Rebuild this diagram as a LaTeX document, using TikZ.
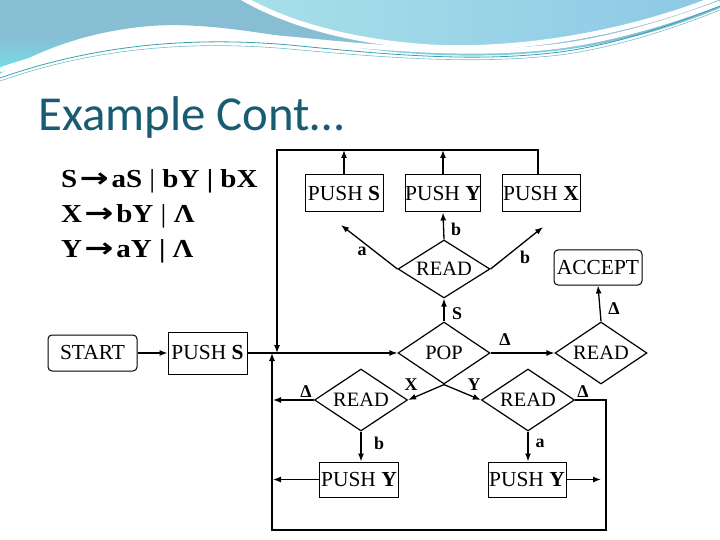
\documentclass[tikz,border=0pt]{standalone}
\usepackage{graphicx}
\usepackage{fontspec}
\setmainfont{Liberation Serif}
\newfontfamily\titlefont{Carlito}
\newfontfamily\arrfont{DejaVu Sans}
\usetikzlibrary{shapes.geometric,arrows.meta}
\definecolor{hdrblue}{RGB}{136,190,211}
\definecolor{hdrcyan}{RGB}{112,226,234}
\definecolor{blobcyan}{RGB}{168,224,232}
\definecolor{blobblue}{RGB}{140,200,230}
\definecolor{linecol}{RGB}{58,160,178}
\definecolor{titlecol}{RGB}{24,92,114}
\newcommand{\garr}{\hspace{2bp}{\arrfont\bfseries\scalebox{1.2}[1.05]{→}}\hspace{2.5bp}}
\newcommand{\gline}[1]{\scalebox{1.12}[1]{#1}}
\tikzset{
  box/.style={draw, line width=1bp, inner sep=0pt, minimum width=78bp, minimum height=37bp, font=\fontsize{21.5}{23}\selectfont},
  rbox/.style={box, rounded corners=4bp},
  dia/.style={draw, line width=1.2bp, diamond, aspect=1.5, inner sep=0pt, minimum width=92bp, minimum height=62bp, font=\fontsize{20.5}{22}\selectfont},
  conn/.style={line width=1.3bp},
  arr/.style={conn, -{Latex[length=8bp,width=6bp]}},
  lbl/.style={inner sep=0pt, font=\bfseries\fontsize{18}{18}\selectfont},
  gram/.style={inner sep=0pt, anchor=base west, font=\bfseries\fontsize{26}{26}\selectfont}
}
\begin{document}
\begin{tikzpicture}[x=1bp,y=-1bp]
\useasboundingbox (0,0) rectangle (720,540);
% header
\shade[top color=hdrblue, bottom color=hdrcyan, middle color=hdrblue] (0,0) -- (720,0) -- (720,8) .. controls (620,50) and (520,60) .. (420,54) .. controls (320,48) and (230,20) .. (150,26) .. controls (80,32) and (30,55) .. (0,74) -- cycle;
\shade[left color=blobcyan, right color=blobblue, draw=white, line width=5bp] (236,-6) .. controls (280,22) and (350,42) .. (430,47) .. controls (530,52) and (640,30) .. (726,-6) -- cycle;
\draw[white, line width=5bp] (0,70) .. controls (100,35) and (200,30) .. (300,40) .. controls (400,50) and (480,56) .. (560,46) .. controls (620,38) and (680,18) .. (720,3);
\draw[linecol, line width=0.8bp] (0,78) .. controls (100,43) and (200,36) .. (300,46) .. controls (400,56) and (480,62) .. (560,52) .. controls (620,44) and (680,22) .. (720,6);
\draw[linecol!70, line width=0.6bp] (0,81) .. controls (100,46) and (200,40) .. (300,50) .. controls (400,59) and (480,64) .. (560,55) .. controls (620,47) and (680,26) .. (720,10);
% title
\node[anchor=base west, inner sep=0pt, text=titlecol, font=\titlefont\fontsize{49}{49}\selectfont] (title) at (38,131) {Example Cont…};
% grammar
\node[gram] (g1) at (61,187.5) {\gline{S\garr aS \textmd{|} bY | bX}};
\node[gram] (g2) at (61,222.5) {\gline{X\garr bY \textmd{|} Λ}};
\node[gram] (g3) at (61,258) {\gline{Y\garr aY | Λ}};
% nodes
\node[box] (pS1) at (344,193.5) {PUSH \textbf{S}};
\node[box, minimum width=74bp] (pY1) at (443,193.5) {PUSH \textbf{Y}};
\node[box] (pX1) at (541,193.5) {PUSH \textbf{X}};
\node[dia, minimum height=58bp] (rd1) at (444,269) {READ};
\node[rbox, minimum width=88bp, minimum height=35bp] (acc) at (598,267.5) {ACCEPT};
\node[rbox, minimum width=89bp, minimum height=36bp] (start) at (92.5,353) {START};
\node[box, minimum width=79bp, minimum height=42bp] (pS0) at (207.5,353) {PUSH \textbf{S}};
\node[dia] (pop) at (444,353) {POP};
\node[dia] (rd2) at (601,353) {READ};
\node[dia, minimum width=93bp] (rdL) at (361,400) {READ};
\node[dia, minimum width=93bp] (rdR) at (528,400) {READ};
\node[box, minimum width=79bp, minimum height=35bp] (pYL) at (359,479.5) {PUSH \textbf{Y}};
\node[box, minimum width=78bp, minimum height=35bp] (pYR) at (527,479.5) {PUSH \textbf{Y}};
% coordinates
\coordinate (tr) at (538,150);
\coordinate (tl) at (277,150);
\coordinate (jd) at (277,353);
\coordinate (aS) at (341,225);
\coordinate (aX) at (543,227);
\coordinate (dL) at (273,400);
\coordinate (yL) at (273,479.5);
\coordinate (yR) at (601,479.5);
\coordinate (br) at (606,400);
\coordinate (bb) at (606,530);
\coordinate (bl) at (272,530);
\coordinate (ju) at (272,353);
% labels
\node[lbl] (la1) at (362,251) {a};
\node[lbl] (lb1) at (456,229) {b};
\node[lbl] (lb2) at (525,257) {b};
\node[lbl] (lS) at (457,314) {S};
\node[lbl] (lD1) at (505,340) {Δ};
\node[lbl] (lD2) at (614,309) {Δ};
\node[lbl] (lX) at (411,385) {X};
\node[lbl] (lY) at (474,385) {Y};
\node[lbl] (lD3) at (306,392) {Δ};
\node[lbl] (lD4) at (583,392) {Δ};
\node[lbl] (lb3) at (379,443) {b};
\node[lbl] (la2) at (540,443) {a};
% connectors
\draw[arr] (start) -- (pS0);
\draw[arr] (pS0) -- (pop);
\draw[arr] (tr |- pX1.north) -- (tr) -- (tl) -- (jd);
\draw[arr] (pS1.north) -- (pS1.north |- tr);
\draw[arr] (pY1.north) -- (pY1.north |- tr);
\draw[arr] (rd1.north) -- (pY1.south);
\draw[arr] (rd1.west) -- (aS);
\draw[arr] (rd1.east) -- (aX);
\draw[arr] (pop.north) -- (rd1.south);
\draw[arr] (pop.east) -- (rd2.west);
\draw[arr] (rd2.north) -- (acc.south);
\draw[arr] (pop.south) -- (rdL.east);
\draw[arr] (pop.south) -- (rdR.west);
\draw[arr] (rdL.west) -- (dL);
\draw[arr] (rdL.south) -- (rdL.south |- pYL.north);
\draw[arr] (rdR.south) -- (rdR.south |- pYR.north);
\draw[arr] (pYL.west) -- (yL);
\draw[arr] (pYR.east) -- (yR);
\draw[arr] (rdR.east) -- (br) -- (bb) -- (bl) -- (ju);
\end{tikzpicture}
\end{document}
